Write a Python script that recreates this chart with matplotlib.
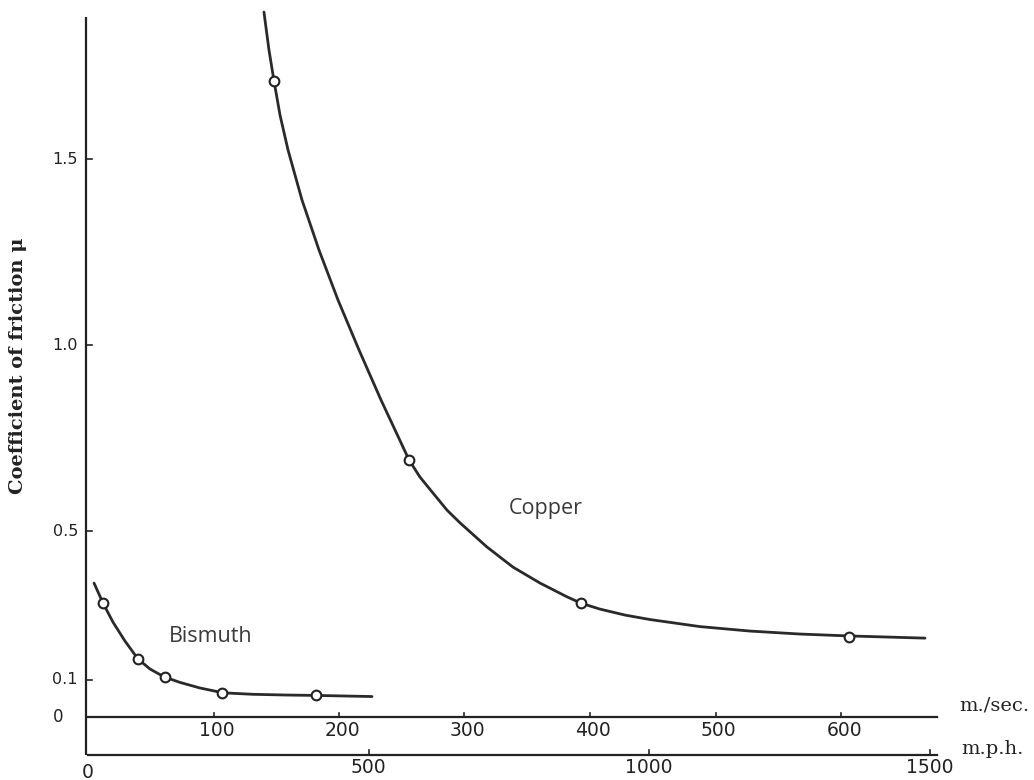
import matplotlib
matplotlib.use("Agg")
import matplotlib.pyplot as plt

# Measured friction coefficients (open circles)
copper_speed = [148, 256, 393, 606]          # m/sec
copper_mu = [1.71, 0.69, 0.306, 0.215]
bismuth_speed = [12, 40, 61, 107, 182]       # m/sec
bismuth_mu = [0.306, 0.156, 0.108, 0.065, 0.059]

# Smooth curves drawn through the measurements
copper_curve_speed = [140.2, 144.2, 148.2, 153.0, 159.4, 170.5, 184.1, 199.2, 215.9, 233.5,
                      244.6, 255.8, 264.5, 274.9, 286.1, 296.4, 317.9, 338.6, 360.2, 381.7,
                      392.8, 408.0, 427.9, 447.8, 487.6, 527.5, 567.3, 605.6, 666.9]
copper_curve_mu = [1.895, 1.793, 1.710, 1.618, 1.524, 1.390, 1.255, 1.121, 0.987, 0.852,
                   0.772, 0.691, 0.645, 0.602, 0.556, 0.522, 0.457, 0.403, 0.360, 0.323,
                   0.306, 0.290, 0.274, 0.262, 0.243, 0.231, 0.223, 0.218, 0.212]
bismuth_curve_speed = [4.8, 12.0, 19.9, 29.5, 39.8, 49.4, 60.6, 73.3, 89.2, 107.6, 131.5,
                       158.6, 181.7, 226.3]
bismuth_curve_mu = [0.360, 0.306, 0.255, 0.204, 0.156, 0.129, 0.108, 0.093, 0.078, 0.065,
                    0.061, 0.059, 0.058, 0.055]

# Axis ticks
ms_ticks = [100, 200, 300, 400, 500, 600]
mph_ticks = [500, 1000, 1500]
mu_ticks = [0.1, 0.5, 1.0, 1.5]
mu_tick_labels = ["0.1", "0.5", "1.0", "1.5"]
MPH_TO_MS = 0.44704

INK = "#222222"

fig = plt.figure(figsize=(10.34, 7.8), dpi=100)
ax = fig.add_axes([0, 0, 1, 1])
ax.set_xlim(-88 / 1.255, (1034 - 88) / 1.255)
ax.set_ylim((717 - 780) / 372, 717 / 372)
ax.axis("off")

x_end = 676.5
mph_level = -0.102

# Hand-drawn style axes
ax.plot([-1.5, -1.5], [mph_level, 1.882], color=INK, lw=1.6, solid_capstyle="butt")
ax.plot([0, x_end], [0, 0], color=INK, lw=1.6)
ax.plot([0, x_end], [mph_level, mph_level], color=INK, lw=1.6)

tick_up = 0.012
for t in ms_ticks:
    ax.plot([t, t], [0, tick_up], color=INK, lw=1.2)
    ax.text(t + 2.5, -0.036, str(t), ha="center", va="center", fontsize=13.5,
            family="DejaVu Sans", color=INK)
for t in mph_ticks:
    x = t * MPH_TO_MS
    ax.plot([x, x], [mph_level, mph_level + tick_up], color=INK, lw=1.2)
    ax.text(x, -0.137, str(t), ha="center", va="center", fontsize=13.5,
            family="DejaVu Sans", color=INK)
ax.text(0, -0.148, "0", ha="center", va="center", fontsize=13.5, family="DejaVu Sans", color=INK)

for t, lab in zip(mu_ticks, mu_tick_labels):
    ax.plot([-1.5, 3], [t, t], color=INK, lw=1.2)
    ax.text(-8, t, lab, ha="right", va="center", fontsize=11.5, family="DejaVu Sans", color=INK)
ax.text(-24, 0.0, "0", ha="center", va="center", fontsize=12, family="DejaVu Sans", color=INK)

ax.text(694, 0.032, "m./sec.", ha="left", va="center", fontsize=14, family="DejaVu Serif",
        color=INK)
ax.text(696, -0.085, "m.p.h.", ha="left", va="center", fontsize=14, family="DejaVu Serif",
        color=INK)
ax.text(-56, 0.945, "Coefficient of friction \u03bc", rotation=90, ha="center", va="center",
        fontsize=14, family="DejaVu Serif", fontweight="bold", color=INK)

# Curves and measured points
ax.plot(copper_curve_speed, copper_curve_mu, color="#2a2a2a", lw=2.0,
        solid_joinstyle="round", solid_capstyle="round")
ax.plot(bismuth_curve_speed, bismuth_curve_mu, color="#2a2a2a", lw=2.0,
        solid_joinstyle="round", solid_capstyle="round")
ax.plot(copper_speed, copper_mu, "o", ms=7, mfc="white", mec=INK, mew=1.5)
ax.plot(bismuth_speed, bismuth_mu, "o", ms=7, mfc="white", mec=INK, mew=1.5)

ax.text(98, 0.217, "Bismuth", ha="center", va="center", fontsize=15.5, family="Open Sans",
        color="#3a3a3a")
ax.text(365, 0.56, "Copper", ha="center", va="center", fontsize=15.5, family="Open Sans",
        color="#3a3a3a")

fig.savefig("out.png", dpi=100, facecolor="white")
